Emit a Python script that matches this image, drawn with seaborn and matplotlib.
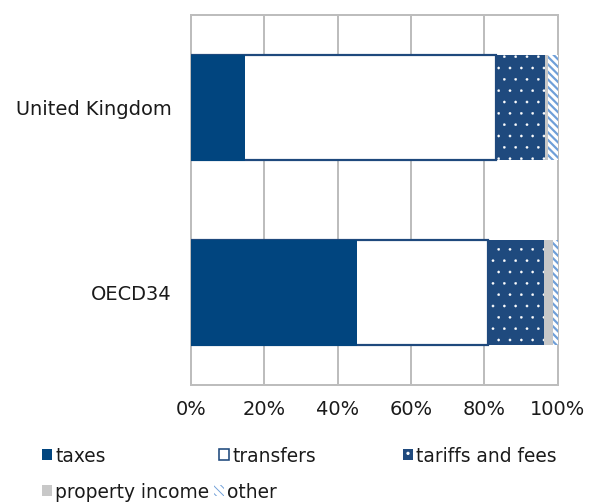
import matplotlib
matplotlib.use("Agg")
import matplotlib.pyplot as plt
import matplotlib.patches as mpatches
import numpy as np
import pandas as pd
import seaborn as sns

# Revenue composition, share of total (%)
categories = ["United Kingdom", "OECD34"]
taxes = [14.4, 45.0]
transfers = [68.7, 36.0]
tariffs_and_fees = [13.4, 15.3]
property_income = [0.8, 2.3]
other = [2.7, 1.4]

x_ticks = [0, 20, 40, 60, 80, 100]
x_tick_labels = ["0%", "20%", "40%", "60%", "80%", "100%"]

series = [
    ("taxes", taxes),
    ("transfers", transfers),
    ("tariffs and fees", tariffs_and_fees),
    ("property income", property_income),
    ("other", other),
]

# Rendering resolution; the hatch cell size follows the dpi, sizes below are in pixels
DPI = 68
W, H = 595, 502


def pt(px):
    return px * 72.0 / DPI


styles = {
    "taxes": dict(facecolor="#01457F", edgecolor="#01457F", hatch=None, lw=1.0, hlw=1.0),
    "transfers": dict(facecolor="white", edgecolor="#1F497D", hatch=None, lw=2.2, hlw=1.0),
    "tariffs and fees": dict(facecolor="#1F4A7E", edgecolor="white", hatch=".", lw=0, hlw=0.3),
    "property income": dict(facecolor="#C8C8C8", edgecolor="#C8C8C8", hatch=None, lw=0, hlw=1.0),
    "other": dict(facecolor="white", edgecolor="#6F9FD8", hatch="\\\\\\", lw=0, hlw=2.2),
}

sns.set_style("white")
plt.rcParams["font.family"] = ["DejaVu Sans"]
text_color = "#1a1a1a"

fig = plt.figure(figsize=(W / DPI, H / DPI), dpi=DPI)
ax = fig.add_axes([190.7 / W, 1 - 385 / H, 367 / W, 370 / H])

# Cumulative totals, drawn from the outermost segment inwards
values = np.array([v for _, v in series], dtype=float)
cumulative = np.cumsum(values, axis=0)

for (name, _), cum in reversed(list(zip(series, cumulative))):
    st = styles[name]
    df = pd.DataFrame({"category": categories, "value": cum})
    n_before = len(ax.patches)
    with plt.rc_context({"hatch.linewidth": pt(st["hlw"])}):
        sns.barplot(
            data=df, x="value", y="category", orient="h", ax=ax,
            width=0.57, saturation=1, color=st["facecolor"],
            edgecolor=st["edgecolor"], linewidth=pt(st["lw"]),
            hatch=st["hatch"], zorder=3,
        )
    for p in ax.patches[n_before:]:
        if hasattr(p, "set_hatch_linewidth"):
            p.set_hatch_linewidth(pt(st["hlw"]))

ax.set_xlim(0, 100)
ax.set_xticks(x_ticks)
ax.set_xticklabels(x_tick_labels)
ax.set_xlabel("")
ax.set_ylabel("")
ax.grid(axis="x", color="#BDBDBD", linewidth=pt(2.0), zorder=0)
ax.grid(axis="y", visible=False)
ax.set_axisbelow(True)
for s in ax.spines.values():
    s.set_visible(True)
    s.set_color("#BDBDBD")
    s.set_linewidth(pt(2.0))
ax.tick_params(axis="x", length=0, pad=pt(15), labelsize=pt(19.4), colors=text_color)
ax.tick_params(axis="y", length=0, pad=pt(19), labelsize=pt(19.4), colors=text_color)

# Legend entries placed individually
legend_pos = {
    "taxes": (42, 456),
    "transfers": (219, 456),
    "tariffs and fees": (403, 456),
    "property income": (42, 492),
    "other": (214, 492),
}
for name, _ in series:
    st = styles[name]
    with plt.rc_context({"hatch.linewidth": pt(st["hlw"])}):
        handle = mpatches.Patch(
            facecolor=st["facecolor"], edgecolor=st["edgecolor"],
            hatch=st["hatch"], linewidth=pt(1.6) if name == "transfers" else 0,
        )
    if hasattr(handle, "set_hatch_linewidth"):
        handle.set_hatch_linewidth(pt(st["hlw"]))
    px, py = legend_pos[name]
    fig.legend(
        [handle], [name], loc="center left",
        bbox_to_anchor=(px / W, 1 - py / H), bbox_transform=fig.transFigure,
        frameon=False, fontsize=pt(18.6), borderpad=0, borderaxespad=0,
        handlelength=0.52, handleheight=0.52, handletextpad=0.2,
        labelcolor=text_color,
    )

fig.savefig("out.png", dpi=DPI)
